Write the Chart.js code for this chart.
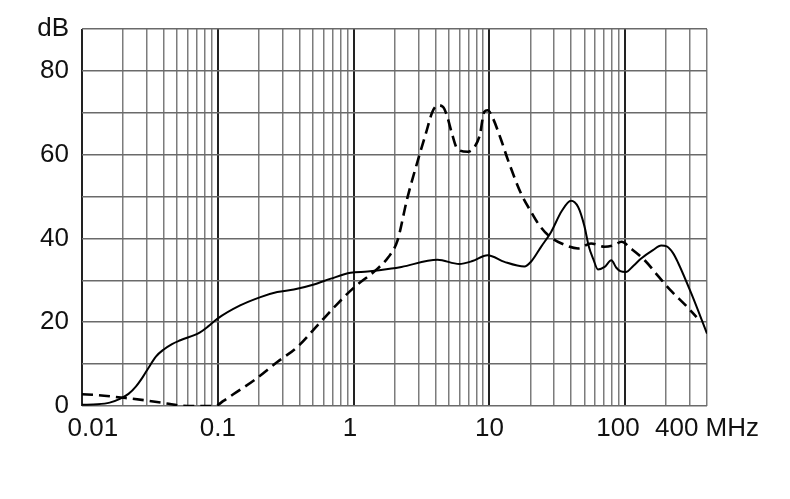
<!DOCTYPE html>
<html>
<head>
<meta charset="utf-8">
<script src="https://cdn.jsdelivr.net/npm/chart.js@4"></script>
<style>
  html, body { margin: 0; padding: 0; background: #fff; }
  #wrap { width: 790px; height: 499px; position: relative; }
</style>
</head>
<body>
<div id="wrap"><canvas id="myChart"></canvas></div>
<script>
// frequency grid (MHz) and the ones that carry a label
const xGrid = [0.01, 0.02, 0.03, 0.04, 0.05, 0.06, 0.07, 0.08, 0.09,
  0.1, 0.2, 0.3, 0.4, 0.5, 0.6, 0.7, 0.8, 0.9,
  1, 2, 3, 4, 5, 6, 7, 8, 9,
  10, 20, 30, 40, 50, 60, 70, 80, 90,
  100, 200, 300, 400];
const xMajor = [0.01, 0.1, 1, 10, 100];
const xLabelVals = [0.01, 0.1, 1, 10, 100, 400];
// spaces nudge the first and 100 labels like in the original
const xLabelTexts = ['   0.01', '0.1', '1 ', '10', '100  ', '400 MHz'];

const yLabelVals = [0, 20, 40, 60, 80, 90];
const yLabelTexts = ['0', '20', '40', '60', '80', 'dB'];

// solid curve
const freqSolid = [0.01, 0.013, 0.016, 0.019, 0.022, 0.025, 0.028, 0.031, 0.035, 0.040,
  0.046, 0.053, 0.074, 0.085, 0.099, 0.146, 0.206, 0.274, 0.363, 0.51, 0.68,
  0.95, 1.27, 1.9, 2.25, 4.15, 5.99, 7.5, 9.7, 12.9, 18.1,
  20.3, 24, 28.4, 34, 39.9, 45, 50, 54, 58, 63,
  70.5, 79, 86, 92, 101, 115, 131, 160, 184, 202,
  225, 245, 307, 400];
const dbSolid = [0.3, 0.4, 0.8, 1.7, 2.9, 4.7, 6.9, 9.2, 11.8, 13.5,
  14.8, 15.7, 17.6, 19, 20.8, 24, 26, 27.2, 27.8, 29, 30.4,
  31.8, 32.1, 32.8, 33.2, 34.9, 33.9, 34.6, 36, 34.4, 33.3,
  34.5, 38, 41.5, 46.5, 49, 47.5, 43, 38, 35.2, 32.6,
  33.2, 34.8, 33, 32.2, 32, 33.5, 35.2, 37.2, 38.3, 38.1,
  36.5, 34.2, 26.8, 17.3];

// dashed curve
const freqDashed = [0.01, 0.013, 0.021, 0.03, 0.042, 0.053, 0.06, 0.095, 0.11, 0.13,
  0.184, 0.274, 0.385, 0.54, 0.76, 1.0, 1.5, 1.8, 2.1, 2.48,
  3.05, 3.4, 3.8, 4.17, 4.55, 4.9, 5.3, 5.83, 6.96, 7.8,
  8.5, 9.15, 9.7, 10.5, 12.2, 13.7, 17.1, 20.3, 22.9, 27,
  34, 45, 56, 70.5, 83, 94, 110, 139, 173, 216,
  279, 335];
const dbDashed = [2.8, 2.6, 1.9, 1.3, 0.6, 0.1, 0, 0, 1.2, 2.8,
  6.1, 10.5, 14.1, 19.2, 24.4, 28.2, 32.8, 35.5, 39.4, 49.5,
  59.9, 65, 70.2, 71.8, 71.4, 69, 65, 61.3, 60.7, 61.9,
  64.7, 70.2, 70.6, 69, 63.5, 58.7, 50.7, 46.3, 43.5, 40.8,
  38.8, 37.6, 38.8, 38, 38.4, 39.2, 37.6, 34.8, 31.2, 27.6,
  24, 21.2];

const toPoints = (xs, ys) => xs.map((x, i) => ({ x: x, y: ys[i] }));

const ctx = document.getElementById('myChart').getContext('2d');
const myChart = new Chart(ctx, {
  type: 'line',
  data: {
    datasets: [
      {
        data: toPoints(freqSolid, dbSolid),
        borderColor: '#000',
        borderWidth: 2,
        pointRadius: 0,
        cubicInterpolationMode: 'monotone',
        fill: false
      },
      {
        data: toPoints(freqDashed, dbDashed),
        borderColor: '#000',
        borderWidth: 2.6,
        borderDash: [11, 6],
        pointRadius: 0,
        cubicInterpolationMode: 'monotone',
        fill: false
      }
    ]
  },
  options: {
    responsive: true,
    maintainAspectRatio: false,
    animation: false,
    layout: { padding: { top: 29, right: 83, left: 0, bottom: 0 } },
    plugins: { legend: { display: false }, tooltip: { enabled: false } },
    scales: {
      x: {
        type: 'logarithmic',
        min: 0.01,
        max: 400,
        afterBuildTicks: (scale) => {
          scale.ticks = xGrid.map(v => ({ value: v }));
        },
        afterFit: (scale) => { scale.height = 93; },
        border: { display: false },
        grid: {
          drawTicks: false,
          color: (c) => xMajor.includes(c.tick.value) ? '#222' : '#7c7c7c',
          lineWidth: (c) => xMajor.includes(c.tick.value) ? 2 : 1.5
        },
        ticks: {
          autoSkip: false,
          maxRotation: 0,
          padding: 7,
          color: '#111',
          font: { family: 'Liberation Sans, Arial, sans-serif', size: 26 },
          callback: (v) => {
            const i = xLabelVals.indexOf(v);
            return i >= 0 ? xLabelTexts[i] : '';
          }
        }
      },
      y: {
        min: 0,
        max: 90,
        afterFit: (scale) => { scale.width = 82; },
        border: { display: false },
        grid: {
          drawTicks: false,
          color: '#6a6a6a',
          lineWidth: 1.5
        },
        ticks: {
          stepSize: 10,
          padding: 13,
          color: '#111',
          font: { family: 'Liberation Sans, Arial, sans-serif', size: 26 },
          callback: (v) => {
            const i = yLabelVals.indexOf(v);
            return i >= 0 ? yLabelTexts[i] : '';
          }
        }
      }
    }
  }
});
</script>
</body>
</html>
